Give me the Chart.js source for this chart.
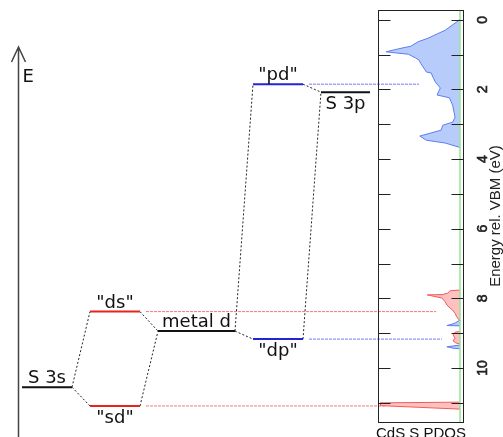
<!DOCTYPE html>
<html>
<head>
<meta charset="utf-8">
<script src="https://cdn.jsdelivr.net/npm/chart.js@4.4.0/dist/chart.umd.min.js"></script>
<style>
  html, body { margin: 0; padding: 0; background: #fff; }
  #wrap { width: 503px; height: 437px; }
</style>
</head>
<body>
<div id="wrap"><canvas id="mo"></canvas></div>
<script>
// levels of the MO diagram, energies in eV below the VBM
const levelNames = ['S 3s', '"ds"', '"sd"', 'metal d', '"pd"', '"dp"', 'S 3p'];
const levelEnergy = [10.55, 8.38, 11.09, 8.94, 1.85, 9.17, 2.08];
const levelColumn = [0, 1, 1, 2, 3, 3, 4];
// dotted links between levels (index pairs)
const links = [[0, 1], [0, 2], [1, 3], [2, 3], [3, 4], [3, 5], [4, 6], [5, 6]];
// levels projected onto the PDOS panel and the PDOS value the guide runs to
const guideLevels = [1, 2, 4, 5];
const guideDos = [0.29, 0.9, 0.5, 0.22];

// CdS S PDOS, S p part (blue)
const pBandE = [0, 0.01, 0.30, 0.53, 0.63, 0.76, 0.84, 0.92, 0.94, 0.99, 1.10, 1.16, 1.25, 1.39, 1.50, 1.53, 1.65, 1.79, 1.96, 2.16, 2.24, 2.45, 2.80, 2.94, 3.03, 3.17, 3.34, 3.46, 3.54, 3.66, 3.67];
const pBandDos = [0, 0.01, 0.18, 0.39, 0.51, 0.60, 0.76, 0.90, 0.83, 0.63, 0.54, 0.50, 0.48, 0.44, 0.41, 0.35, 0.33, 0.30, 0.24, 0.28, 0.13, 0.09, 0.06, 0.09, 0.21, 0.23, 0.49, 0.41, 0.18, 0.01, 0];
const pDeep1E = [8.62, 8.71, 8.75, 8.78, 8.79];
const pDeep1Dos = [0, 0.06, 0.11, 0.16, 0];
const pDeep2E = [9.34, 9.39, 9.43, 9.45];
const pDeep2Dos = [0, 0.16, 0.085, 0];
// S s part (red)
const sUpperE = [7.76, 7.78, 7.85, 7.89, 7.90, 7.99, 8.10, 8.19, 8.28, 8.34, 8.43, 8.53, 8.62, 8.65];
const sUpperDos = [0, 0.12, 0.15, 0.21, 0.40, 0.22, 0.18, 0.16, 0.12, 0.09, 0.06, 0.04, 0.01, 0];
const sMidE = [8.95, 8.97, 9.05, 9.14, 9.22, 9.28, 9.31];
const sMidDos = [0, 0.06, 0.085, 0.06, 0.085, 0.05, 0];
const sLowE = [10.98, 11.0, 11.08, 11.13, 11.18];
const sLowDos = [0, 0.97, 0.97, 0.49, 0];

// energy axis: tick marks every eV, labels every 2 eV
const energySteps = [0, 1, 2, 3, 4, 5, 6, 7, 8, 9, 10, 11];
const energyLabels = [0, 2, 4, 6, 8, 10];

// layout of the diagram columns (in level-width units)
const colStart = [0, 1.36, 2.72, 4.62, 5.98];
const colWidth = [1, 1, 1.54, 1, 0.98];
const levelColor = ['#111', '#e8231f', '#e8231f', '#111', '#2323d8', '#2323d8', '#111'];
const labelBelow = [false, false, true, false, false, true, true];
const X_MIN = -0.08, X_MAX = 8.82;       // diagram axis
const XD_MIN = -0.0366, XD_MAX = 5.39;   // PDOS axis (reversed)
const DOS_FRAME = 1.0;                   // left edge of the PDOS frame
const Y_MIN = -0.28, Y_MAX = 11.55;

// PDOS value -> position on the diagram axis (both axes share the chart area)
const dosToX = d => X_MAX - (d - XD_MIN) / (XD_MAX - XD_MIN) * (X_MAX - X_MIN);
const levelEnd = i => colStart[levelColumn[i]] + colWidth[levelColumn[i]];

const datasets = [];

levelNames.forEach((name, i) => {
  const c = levelColumn[i];
  datasets.push({
    label: name, xAxisID: 'x',
    data: [{x: colStart[c], y: levelEnergy[i]}, {x: colStart[c] + colWidth[c], y: levelEnergy[i]}],
    borderColor: levelColor[i], borderWidth: 2
  });
});

links.forEach(([a, b]) => {
  datasets.push({
    xAxisID: 'x',
    data: [{x: levelEnd(a), y: levelEnergy[a]}, {x: colStart[levelColumn[b]], y: levelEnergy[b]}],
    borderColor: '#222', borderWidth: 1, borderDash: [2, 2]
  });
});

guideLevels.forEach((li, k) => {
  const red = levelColor[li] === '#e8231f';
  datasets.push({
    xAxisID: 'x',
    data: [{x: levelEnd(li) + 0.12, y: levelEnergy[li]}, {x: dosToX(guideDos[k]), y: levelEnergy[li]}],
    borderColor: red ? 'rgb(246,120,120)' : 'rgb(120,120,246)',
    borderWidth: 1, borderDash: [3, 1]
  });
});

// zero line of the PDOS
datasets.push({
  xAxisID: 'xd', indexAxis: 'y',
  data: [{x: 0, y: Y_MIN}, {x: 0, y: Y_MAX}],
  borderColor: 'rgb(150,228,150)', borderWidth: 1.5
});

function pdos(E, D, line, fill) {
  datasets.push({
    xAxisID: 'xd', indexAxis: 'y',
    data: E.map((e, i) => ({x: D[i], y: e})),
    borderColor: line, backgroundColor: fill, borderWidth: 1,
    fill: {value: 0}
  });
}
pdos(pBandE, pBandDos, 'rgb(90,125,240)', 'rgba(175,198,250,0.9)');
pdos(pDeep1E, pDeep1Dos, 'rgb(90,125,240)', 'rgba(175,198,250,0.9)');
pdos(pDeep2E, pDeep2Dos, 'rgb(90,125,240)', 'rgba(175,198,250,0.9)');
pdos(sUpperE, sUpperDos, 'rgb(240,90,90)', 'rgba(255,185,185,0.9)');
pdos(sMidE, sMidDos, 'rgb(240,90,90)', 'rgba(255,185,185,0.9)');
pdos(sLowE, sLowDos, 'rgb(240,90,90)', 'rgba(255,185,185,0.9)');

// frame, inner ticks, E arrow and the diagram labels
const decor = {
  id: 'decor',
  afterDatasetsDraw(chart) {
    const {ctx, chartArea: a, scales} = chart;
    const x = scales.x, xd = scales.xd, y = scales.y;
    ctx.save();
    ctx.strokeStyle = '#222';
    ctx.lineWidth = 1;
    const boxL = Math.round(xd.getPixelForValue(DOS_FRAME)) + 0.5;
    const boxR = Math.round(a.right) + 0.5;
    ctx.strokeRect(boxL, Math.round(a.top) + 0.5, boxR - boxL, Math.round(a.bottom - a.top));
    ctx.beginPath();
    energySteps.forEach(v => {
      const py = Math.round(y.getPixelForValue(v)) + 0.5;
      ctx.moveTo(boxL, py); ctx.lineTo(boxL + 12, py);
      ctx.moveTo(boxR - 12, py); ctx.lineTo(boxR, py);
    });
    ctx.stroke();

    // energy arrow
    const ax = a.left + 0.5, top = a.top + 37;
    ctx.strokeStyle = '#444';
    ctx.lineWidth = 1.5;
    ctx.beginPath();
    ctx.moveTo(ax, chart.height); ctx.lineTo(ax, top);
    ctx.moveTo(ax - 7, top + 15); ctx.lineTo(ax, top); ctx.lineTo(ax + 7, top + 15);
    ctx.stroke();

    ctx.fillStyle = '#111';
    ctx.font = '18px "DejaVu Sans"';
    ctx.textAlign = 'left';
    ctx.textBaseline = 'alphabetic';
    ctx.fillText('E', ax + 4, top + 35);

    ctx.textAlign = 'center';
    levelNames.forEach((name, i) => {
      const c = levelColumn[i];
      const px = x.getPixelForValue(colStart[c] + colWidth[c] / 2);
      const py = y.getPixelForValue(levelEnergy[i]);
      ctx.fillText(name, px, labelBelow[i] ? py + 17 : py - 4);
    });

    ctx.font = '15px "Liberation Sans"';
    ctx.fillText('CdS S PDOS', (boxL + boxR) / 2, chart.height + 1);
    ctx.restore();
  },
  afterDraw(chart) {
    // rotated energy labels and axis title, reading bottom to top
    const {ctx, chartArea: a, scales: {y}} = chart;
    ctx.save();
    ctx.fillStyle = '#222';
    ctx.strokeStyle = '#222';
    ctx.lineWidth = 0.6;
    ctx.textAlign = 'center';
    ctx.textBaseline = 'middle';
    ctx.translate(a.right, 0);
    ctx.rotate(-Math.PI / 2);
    ctx.font = '14px "Liberation Sans"';
    energyLabels.forEach(v => {
      const s = String(v), px = -y.getPixelForValue(v);
      ctx.strokeText(s, px, 20);
      ctx.fillText(s, px, 20);
    });
    ctx.font = '15px "Liberation Sans"';
    ctx.fillText('Energy rel. VBM (eV)', -(a.top + a.bottom) / 2, 33);
    ctx.restore();
  }
};

Chart.defaults.font.family = '"Liberation Sans", Arial, sans-serif';

new Chart(document.getElementById('mo'), {
  type: 'line',
  data: { datasets },
  plugins: [decor],
  options: {
    responsive: true,
    maintainAspectRatio: false,
    animation: false,
    layout: { padding: { left: 18, top: 10, right: 0, bottom: 15 } },
    elements: { point: { radius: 0 }, line: { tension: 0 } },
    plugins: { legend: { display: false }, tooltip: { enabled: false } },
    scales: {
      x: { type: 'linear', display: false, min: X_MIN, max: X_MAX },
      xd: { type: 'linear', display: false, min: XD_MIN, max: XD_MAX, reverse: true },
      y: {
        type: 'linear', position: 'right', reverse: true, min: Y_MIN, max: Y_MAX,
        grid: { display: false, drawTicks: false },
        border: { display: false },
        afterBuildTicks: s => { s.ticks = energySteps.map(v => ({value: v})); },
        ticks: { display: false },
        afterFit: s => { s.width = 40; s.paddingTop = 0; s.paddingBottom = 0; }
      }
    }
  }
});
</script>
</body>
</html>
